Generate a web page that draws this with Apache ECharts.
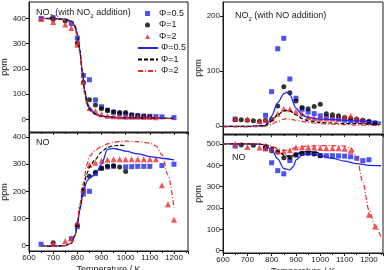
<!DOCTYPE html>
<html>
<head>
<meta charset="utf-8">
<script src="https://cdn.jsdelivr.net/npm/echarts@6/dist/echarts.min.js"></script>
<style>
html, body { margin: 0; padding: 0; background: #fff; }
#main { width: 384px; height: 270px; }
</style>
</head>
<body>
<div id="main"></div>
<script>
// tick labels
const xLabels = [600, 700, 800, 900, 1000, 1100, 1200];
const yLabels400 = [0, 100, 200, 300, 400];
const yLabels200 = [0, 100, 200];
const yLabels500 = [0, 100, 200, 300, 400, 500];

// top left: NO2 (with NO2 addition), measured points [T, ppm]
const tlExpBlue = [[650,400],[700,403],[775,380],[800,322],[825,174],[850,157],[875,77],[900,50],[925,36],[950,28],[975,22],[1000,20],[1025,17],[1050,15],[1075,13],[1100,12],[1125,11],[1150,10],[1200,7]];
const tlExpBlack = [[700,397],[750,390],[800,303],[825,147],[850,78],[875,57],[900,42],[925,36],[950,30],[975,27],[1000,27],[1025,17],[1050,14],[1075,12],[1100,11]];
const tlExpRed = [[650,398],[700,386],[750,376],[775,362],[800,296],[825,148],[850,45],[875,32],[900,20],[925,14],[950,12],[975,11],[1000,10],[1025,10],[1050,10],[1075,9],[1100,9],[1125,8]];
// top left, model curves
const tlModBlue = [[650,400],[700,400],[750,397],[775,390],[790,372],[800,340],[810,280],[820,200],[830,120],[840,70],[850,45],[875,22],[900,13],[950,8],[1000,6],[1100,5],[1200,4]];
const tlModBlack = [[650,400],[700,399],[750,396],[775,388],[790,368],[800,335],[810,272],[820,190],[830,110],[840,62],[850,40],[875,20],[900,12],[950,8],[1000,6],[1100,5],[1200,4]];
const tlModRed = [[650,400],[700,398],[750,394],[775,385],[790,362],[800,328],[810,265],[820,180],[830,100],[840,55],[850,35],[875,18],[900,11],[950,7],[1000,5],[1100,4],[1200,3]];

// bottom left: NO
const blExpBlue = [[650,5],[775,25],[800,70],[825,190],[850,200],[875,265],[900,285],[925,290],[950,292],[1000,290],[1025,291],[1050,292],[1075,292],[1100,292],[1150,295],[1200,300]];
const blExpBlack = [[700,10],[800,76],[825,205],[850,256],[875,270],[900,285],[925,292],[950,294],[975,290],[1000,273]];
const blExpRed = [[700,9],[750,17],[775,27],[800,85],[825,208],[850,297],[875,305],[900,313],[925,316],[950,318],[975,318],[1000,318],[1025,318],[1050,318],[1075,318],[1100,318],[1125,318],[1150,222],[1175,152],[1200,95]];
const blModBlue = [[650,0],[700,-2],[750,0],[775,8],[790,35],[800,75],[810,130],[825,200],[840,238],[850,250],[875,262],[900,300],[925,355],[950,358],[975,354],[1000,348],[1050,338],[1100,328],[1150,322],[1200,316]];
const blModBlack = [[650,0],[700,-2],[750,0],[775,8],[790,38],[800,80],[810,140],[825,215],[840,265],[850,290],[875,318],[900,345],[925,362],[950,368],[975,370],[1000,368]];
const blModRed = [[650,0],[700,-2],[750,0],[775,8],[790,40],[800,85],[810,150],[825,230],[840,300],[850,330],[875,352],[900,365],[925,375],[950,381],[975,384],[1000,385],[1050,383],[1100,378],[1125,368],[1150,335],[1175,260],[1200,140]];

// top right: NO2 (with NO addition)
const trExpBlue = [[650,12],[775,19],[800,62],[825,140],[850,159],[875,85],[900,50],[925,30],[950,25],[975,22],[1000,18],[1025,16],[1050,14],[1075,12],[1100,10],[1125,9],[1150,9],[1175,8],[1200,6],[1225,5]];
const trExpBlack = [[650,11],[675,11],[700,10],[725,9],[750,8],[775,10],[800,12],[825,36],[850,71],[875,60],[900,45],[925,33],[950,31],[975,35],[1000,39],[1025,22],[1050,20],[1075,18],[1100,15],[1125,13],[1150,12],[1175,10],[1200,8],[1225,5]];
const trExpRed = [[650,13],[700,12],[750,8],[775,10],[800,13],[825,22],[850,31],[875,30],[900,26],[925,22],[950,16],[975,14],[1000,13],[1025,13],[1050,13],[1075,13],[1100,15],[1125,18],[1150,13],[1175,10]];
const trModBlue = [[600,-1],[700,-1],[770,0],[790,8],[800,18],[825,42],[850,58],[862,61],[875,56],[900,32],[925,20],[950,15],[1000,12],[1050,11],[1100,10],[1150,9],[1200,8],[1250,6]];
const trModBlack = [[600,-1],[700,-1],[770,0],[790,4],[800,9],[825,20],[850,27],[862,28],[875,27],[900,20],[925,13],[950,9],[1000,6],[1050,5],[1100,4],[1150,4],[1200,3],[1250,3]];
const trModRed = [[600,-2],[700,-2],[770,-1],[790,1],[800,3],[825,8],[850,12],[862,13],[875,12],[900,10],[925,8],[950,6],[1000,4],[1050,3],[1100,2],[1150,1],[1200,1],[1250,0]];

// bottom right: NO
const brExpBlue = [[650,490],[775,477],[800,412],[825,375],[850,360],[875,422],[900,448],[925,456],[950,458],[975,455],[1000,446],[1025,445],[1050,445],[1075,444],[1100,443],[1125,440],[1150,433],[1175,422],[1200,426]];
const brExpBlack = [[675,495],[725,494],[775,485],[800,468],[825,462],[850,435],[875,438],[900,450],[925,455],[950,456],[975,453],[1000,445]];
const brExpRed = [[650,500],[700,486],[750,484],[775,482],[800,475],[825,465],[850,465],[875,470],[900,484],[925,485],[950,485],[975,484],[1000,481],[1025,480],[1050,480],[1075,480],[1100,478],[1125,468],[1200,168],[1225,113]];
const brModBlue = [[600,500],[700,500],[750,499],[775,494],[800,472],[825,430],[850,385],[875,378],[890,395],[900,425],[925,448],[950,455],[975,452],[1000,445],[1050,432],[1100,420],[1150,408],[1200,400],[1250,398]];
const brModBlack = [[600,500],[700,500],[750,499],[775,496],[800,484],[825,468],[850,448],[875,440],[900,452],[925,462],[950,465],[975,462],[1000,456]];
const brModRed = [[600,500],[700,500],[750,500],[775,498],[800,490],[825,478],[850,470],[875,472],[900,484],[950,490],[1000,492],[1050,492],[1100,490],[1125,482],[1150,440],[1175,320],[1200,190],[1225,120],[1250,62]];

const BLUE = '#1e28ee';
const RED = '#ee2a2a';
const INK = '#1a1a1a';
const FONT = '"Liberation Sans", Arial, sans-serif';

// 4 panels: [left, top, width, height]
const panels = [
    { box: [29, 2, 159, 130],  ymin: -50, ymax: 465, ticks: yLabels400, bottom: false },
    { box: [29, 133, 159, 118], ymin: -20, ymax: 415, ticks: yLabels400, bottom: true },
    { box: [223, 2, 160, 132], ymin: -15, ymax: 225, ticks: yLabels200, bottom: false },
    { box: [223, 135, 160, 118], ymin: -11, ymax: 542, ticks: yLabels500, bottom: true }
];

function expSeries(idx, blue, black, red) {
    const base = { type: 'scatter', xAxisIndex: idx, yAxisIndex: idx, z: 2 };
    return [
        Object.assign({}, base, { name: 'Φ=0.5', data: blue, symbol: 'rect', symbolSize: 5, itemStyle: { color: BLUE } }),
        Object.assign({}, base, { name: 'Φ=1', data: black, symbol: 'circle', symbolSize: 5, itemStyle: { color: '#000' } }),
        Object.assign({}, base, { name: 'Φ=2', data: red, symbol: 'triangle', symbolSize: 6, itemStyle: { color: RED } })
    ];
}

// model curves: names carry a trailing space so the legend keeps them apart
function modelSeries(idx, blue, black, red) {
    const base = { type: 'line', xAxisIndex: idx, yAxisIndex: idx, symbol: 'none', smooth: 0.3, smoothMonotone: 'x', z: 3 };
    return [
        Object.assign({}, base, { name: 'Φ=0.5 ', data: blue, lineStyle: { color: BLUE, width: 1.3, type: 'solid' }, itemStyle: { color: BLUE } }),
        Object.assign({}, base, { name: 'Φ=1 ', data: black, lineStyle: { color: '#000', width: 1.2, type: [4, 2] }, itemStyle: { color: '#000' } }),
        Object.assign({}, base, { name: 'Φ=2 ', data: red, lineStyle: { color: RED, width: 1.2, type: [5, 2, 1, 2] }, itemStyle: { color: RED } })
    ];
}

const grids = panels.map(function (p) {
    return { left: p.box[0], top: p.box[1], width: p.box[2], height: p.box[3],
        outerBoundsMode: 'none',
        show: true, borderColor: INK, borderWidth: 1, backgroundColor: 'transparent' };
});

const xAxes = panels.map(function (p, i) {
    return {
        type: 'value', gridIndex: i, min: 600, max: 1258, interval: 100,
        axisLine: { onZero: false, lineStyle: { color: INK } },
        axisTick: { length: 3, lineStyle: { color: INK } },
        minorTick: { show: true, splitNumber: 2, length: 2, lineStyle: { color: INK } },
        splitLine: { show: false },
        axisLabel: { show: p.bottom, fontSize: 8, color: INK, margin: 3, fontFamily: FONT, showMaxLabel: false,
            formatter: function (v) { return String(v); } },
        name: p.bottom ? 'Temperature / K' : '',
        nameLocation: 'middle', nameGap: 14,
        nameTextStyle: { fontSize: 9, color: INK, fontFamily: FONT }
    };
});

const yAxes = panels.map(function (p, i) {
    return {
        type: 'value', gridIndex: i, min: p.ymin, max: p.ymax,
        axisLine: { show: true, onZero: false, lineStyle: { color: INK } },
        axisTick: { show: true, length: 3, customValues: p.ticks, lineStyle: { color: INK } },
        axisLabel: { fontSize: 8, color: INK, margin: 3, fontFamily: FONT, customValues: p.ticks,
            formatter: function (v) { return String(v); } },
        splitLine: { show: false },
        name: 'ppm', nameLocation: 'middle', nameGap: i < 2 ? 18 : 16,
        nameTextStyle: { fontSize: 9, color: INK, fontFamily: FONT }
    };
});

const titleRich = {
    sub: { fontSize: 6, lineHeight: 6, verticalAlign: 'bottom', color: INK, fontFamily: FONT }
};
function panelTitle(text, left, top) {
    return { text: text, left: left, top: top, padding: 0,
        textStyle: { fontSize: 9, fontWeight: 'normal', color: INK, fontFamily: FONT, lineHeight: 12, rich: titleRich } };
}

const legendText = { fontSize: 9, color: INK, fontFamily: FONT };

const option = {
    animation: false,
    title: [
        panelTitle('NO{sub|2} (with NO{sub|2} addition)', 36, 7),
        panelTitle('NO{sub|2} (with NO addition)', 235, 10),
        panelTitle('NO', 36, 137),
        panelTitle('NO', 232, 152)
    ],
    legend: [
        {   // measured points
            orient: 'vertical', left: 145, top: 9,
            itemWidth: 5, itemHeight: 5, itemGap: 2.5, padding: 0,
            data: ['Φ=0.5', 'Φ=1', 'Φ=2'],
            textStyle: Object.assign({ padding: [0, 0, 0, 4] }, legendText)
        },
        {   // model curves
            orient: 'vertical', left: 137, top: 43.5,
            itemWidth: 20, itemHeight: 5, itemGap: 2.5, padding: 0,
            data: ['Φ=0.5 ', 'Φ=1 ', 'Φ=2 '],
            itemStyle: { opacity: 0 },
            formatter: function (name) { return name.trim(); },
            textStyle: Object.assign({ padding: [0, 0, 0, -2] }, legendText)
        }
    ],
    grid: grids,
    xAxis: xAxes,
    yAxis: yAxes,
    series: [].concat(
        expSeries(0, tlExpBlue, tlExpBlack, tlExpRed),
        modelSeries(0, tlModBlue, tlModBlack, tlModRed),
        expSeries(1, blExpBlue, blExpBlack, blExpRed),
        modelSeries(1, blModBlue, blModBlack, blModRed),
        expSeries(2, trExpBlue, trExpBlack, trExpRed),
        modelSeries(2, trModBlue, trModBlack, trModRed),
        expSeries(3, brExpBlue, brExpBlack, brExpRed),
        modelSeries(3, brModBlue, brModBlack, brModRed)
    )
};

const chart = echarts.init(document.getElementById('main'), null, { renderer: 'canvas' });
chart.setOption(option);
</script>
</body>
</html>
